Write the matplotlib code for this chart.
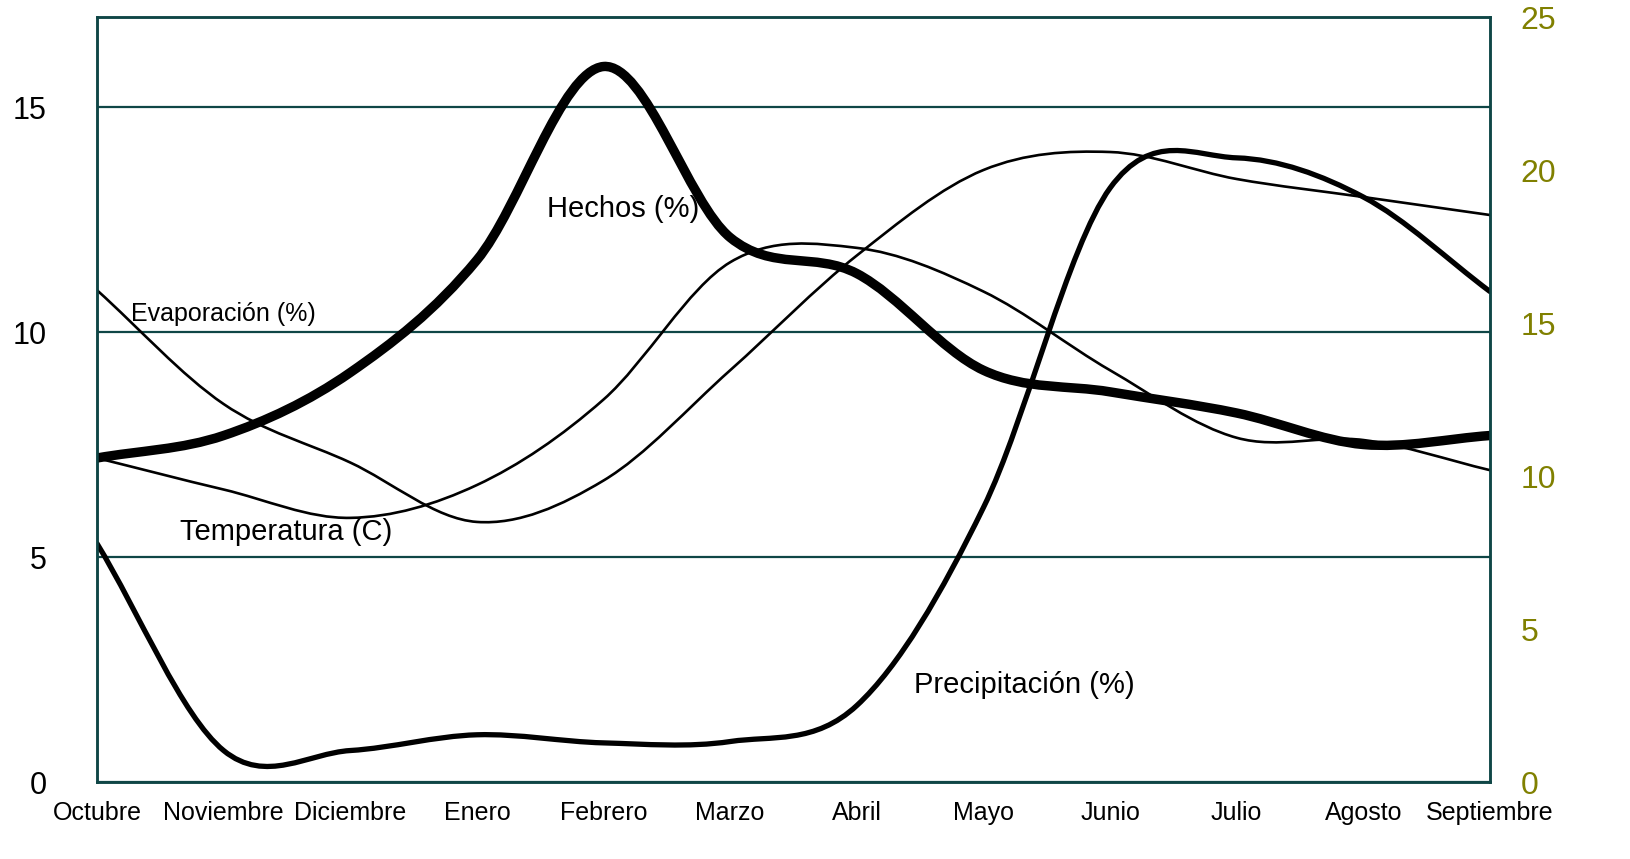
import numpy as np
import matplotlib
matplotlib.use("Agg")
import matplotlib.pyplot as plt
from matplotlib.path import Path
from matplotlib.patches import PathPatch

meses = ["Octubre", "Noviembre", "Diciembre", "Enero", "Febrero", "Marzo",
         "Abril", "Mayo", "Junio", "Julio", "Agosto", "Septiembre"]

hechos = [7.2, 7.7, 9.1, 11.6, 15.9, 12.1, 11.3, 9.15, 8.67, 8.2, 7.5, 7.7]
precipitacion = [5.3, 0.7, 0.7, 1.05, 0.87, 0.9, 1.7, 6.1, 13.2, 13.87, 13.0, 10.9]
evaporacion = [10.93, 8.4, 7.1, 5.78, 6.7, 9.15, 11.7, 13.6, 14.0, 13.4, 13.0, 12.6]
temperatura = [7.2, 6.5, 5.87, 6.6, 8.5, 11.55, 11.87, 10.9, 9.15, 7.65, 7.6, 6.93]

verde = "#0f4646"
oliva = "#808000"
plt.rcParams["font.family"] = ["Liberation Sans", "DejaVu Sans"]


def curva(ax, valores, lw):
    # linea suavizada tipo excel (catmull-rom -> bezier)
    pts = np.column_stack([np.arange(len(valores)), np.asarray(valores, float)])
    ext = np.vstack([2 * pts[0] - pts[1], pts, 2 * pts[-1] - pts[-2]])
    verts = [pts[0]]
    codes = [Path.MOVETO]
    for i in range(len(pts) - 1):
        p0, p1, p2, p3 = ext[i], ext[i + 1], ext[i + 2], ext[i + 3]
        verts += [p1 + (p2 - p0) / 6, p2 - (p3 - p1) / 6, p2]
        codes += [Path.CURVE4] * 3
    ax.add_patch(PathPatch(Path(verts, codes), fill=False, lw=lw, ec="black",
                           capstyle="round", joinstyle="round", zorder=3))


fig = plt.figure(figsize=(16.3, 8.59), dpi=100)
ax = fig.add_axes([0.0595, 0.0896, 0.8546, 0.8906])

ax.set_xlim(0, len(meses) - 1)
ax.set_ylim(0, 17)
ax.set_yticks([0, 5, 10, 15])
ax.set_xticks(range(len(meses)))
ax.set_xticklabels(meses, fontsize=18)
ax.tick_params(axis="y", length=0, pad=36, labelsize=22)
ax.tick_params(axis="x", length=0, pad=14)
ax.grid(axis="y", color=verde, lw=1.6)
ax.set_axisbelow(True)
for s in ax.spines.values():
    s.set_color(verde)
    s.set_linewidth(1.8)

curva(ax, temperatura, 1.9)
curva(ax, evaporacion, 1.9)
curva(ax, precipitacion, 3.8)
curva(ax, hechos, 6.8)

ax.text(3.555, 12.73, "Hechos (%)", fontsize=21, va="center")
ax.text(0.269, 10.4, "Evaporación (%)", fontsize=18, va="center")
ax.text(0.656, 5.56, "Temperatura (C)", fontsize=21, va="center")
ax.text(6.45, 2.16, "Precipitación (%)", fontsize=21, va="center")

ax2 = ax.twinx()
ax2.set_ylim(0, 25)
ax2.set_yticks([0, 5, 10, 15, 20, 25])
ax2.tick_params(axis="y", length=0, pad=22, labelsize=23, labelcolor=oliva)
for s in ax2.spines.values():
    s.set_color(verde)
    s.set_linewidth(1.8)

fig.savefig("out.png", dpi=100, facecolor="white")
